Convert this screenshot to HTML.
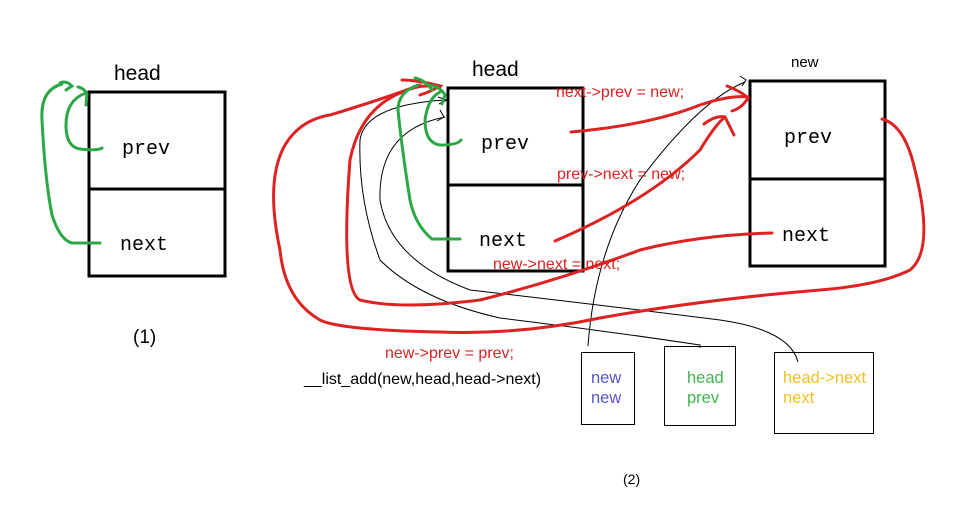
<!DOCTYPE html>
<html><head><meta charset="utf-8"><style>
html,body{margin:0;padding:0;background:#fff;}
svg{display:block}
text{font-family:"Liberation Sans",sans-serif;}
.m{font-family:"Liberation Mono","DejaVu Sans Mono",monospace;font-size:20px;}
</style></head><body>
<svg width="966" height="515" viewBox="0 0 966 515" xmlns="http://www.w3.org/2000/svg">
<rect width="966" height="515" fill="#fff"/>
<rect x="89" y="92" width="136" height="184" fill="none" stroke="#000" stroke-width="3"/>
<line x1="89" y1="189" x2="225" y2="189" stroke="#000" stroke-width="3"/>
<text x="114" y="80" font-size="21">head</text>
<text x="122" y="154" class="m">prev</text>
<text x="120" y="250" class="m">next</text>
<text x="133" y="343" font-size="19">(1)</text>
<g fill="none" stroke="#2ca745" stroke-width="3" stroke-linecap="round">
<path d="M102 148 Q98 151 80 149 Q66 147 66 125 Q66 100 86 93"/>
<path d="M78 87 Q84 88 87 94 L86 105"/>
<path d="M100 243 L72 243 Q60 240 52 215 Q45 180 42 120 Q40 90 62 84"/>
<path d="M60 83 Q66 80 72 86 L66 90"/>
</g>
<rect x="448" y="88" width="135" height="183" fill="none" stroke="#000" stroke-width="3"/>
<line x1="448" y1="185" x2="583" y2="185" stroke="#000" stroke-width="3"/>
<text x="472" y="76" font-size="21">head</text>
<text x="481" y="149" class="m">prev</text>
<text x="479" y="246" class="m">next</text>
<rect x="750" y="81" width="135" height="185" fill="none" stroke="#000" stroke-width="3"/>
<line x1="750" y1="179" x2="885" y2="179" stroke="#000" stroke-width="3"/>
<text x="791" y="67" font-size="15">new</text>
<text x="784" y="143" class="m">prev</text>
<text x="782" y="241" class="m">next</text>
<g fill="none" stroke="#000" stroke-width="1">
<path d="M588 346 Q595 250 640 180 Q700 100 745 82"/>
<path d="M740 76 L746 80 L742 86"/>
<path d="M700 348 L700 345 Q600 330 500 318 Q420 300 380 260 Q358 200 360 140 Q365 105 445 100"/>
<path d="M438 97 L447 100 L439 104"/>
<path d="M798 362 Q790 330 720 320 Q600 305 470 290 Q390 260 380 200 Q378 130 445 117"/>
<path d="M440 110 L444 117 L437 121"/>
</g>
<g fill="none" stroke="#dd2222" stroke-width="3" stroke-linecap="round">
<path d="M571 132 Q650 125 700 105 Q730 95 748 97"/>
<path d="M727 86 Q742 92 748 98 Q742 108 732 111"/>
<path d="M555 241 Q650 200 700 150 Q715 125 725 117"/>
<path d="M704 124 Q716 115 725 117 Q730 127 734 135"/>
<path d="M772 233 Q700 235 640 250 Q560 280 480 300 Q400 310 360 300 Q340 290 350 160 Q360 110 400 93 Q420 83 440 87"/>
<path d="M402 80 Q418 80 440 86 Q430 92 420 95"/>
<path d="M882 119 Q905 125 915 170 Q935 250 910 270 Q880 285 820 290 Q700 300 600 318 Q520 335 440 332 Q340 330 320 320 Q285 300 280 250 Q265 180 285 145 Q300 120 330 115 Q380 100 420 85"/>
</g>
<g fill="none" stroke="#2ca745" stroke-width="3" stroke-linecap="round">
<path d="M461 140 Q458 145 440 145 Q425 143 425 120 Q428 98 440 92"/>
<path d="M428 85 Q440 86 445 95 L442 104"/>
<path d="M460 239 L432 239 Q415 225 410 200 Q402 150 398 110 Q398 92 418 85"/>
<path d="M415 78 Q425 80 432 90"/>
</g>
<g fill="#dd2222" font-size="16">
<text x="556" y="97">next-&gt;prev = new;</text>
<text x="557" y="179">prev-&gt;next = new;</text>
<text x="493" y="269">new-&gt;next = next;</text>
<text x="385" y="358">new-&gt;prev = prev;</text>
</g>
<text x="304" y="384" font-size="16" fill="#000">__list_add(new,head,head-&gt;next)</text>
<rect x="581.5" y="352.5" width="53" height="72" fill="none" stroke="#000" stroke-width="1"/>
<text x="591" y="383" font-size="16.5" fill="#5555cc">new</text>
<text x="591" y="403" font-size="16.5" fill="#5555cc">new</text>
<rect x="664.5" y="346.5" width="71" height="79" fill="none" stroke="#000" stroke-width="1"/>
<text x="687" y="383" font-size="16.5" fill="#3fb74f">head</text>
<text x="687" y="403" font-size="16.5" fill="#3fb74f">prev</text>
<rect x="774.5" y="352.5" width="99" height="81" fill="none" stroke="#000" stroke-width="1"/>
<text x="783" y="383" font-size="16.5" fill="#f0c020">head-&gt;next</text>
<text x="783" y="403" font-size="16.5" fill="#f0c020">next</text>
<text x="623" y="484" font-size="14" fill="#000">(2)</text>
</svg>
</body></html>
